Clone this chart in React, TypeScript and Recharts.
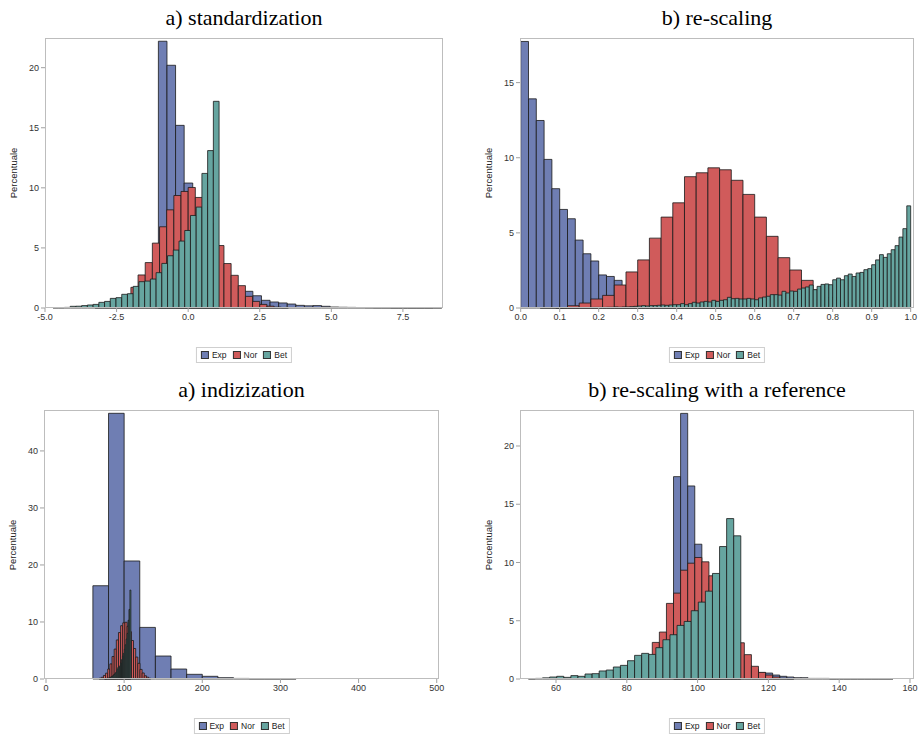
import { ComposedChart, XAxis, YAxis, ReferenceArea } from 'recharts'

// ─── data (percent per bin; each series = first bin edge, bin width, heights) ───

const seriesNames = ['Exp', 'Nor', 'Bet']

// a) standardization
const stdExpStart = -1.04
const stdExpWidth = 0.3
const stdExp = [22.2, 20.2, 15.2, 10.4, 7.6, 5.6, 4.1, 3.0, 2.2, 1.6, 1.39, 1.02, 0.64, 0.5, 0.42, 0.33, 0.22, 0.18, 0.2, 0.14, 0.08, 0.06, 0.05, 0.04, 0.03, 0.02, 0.02, 0.01, 0.01, 0.01, 0.01, 0.01, 0.02]
const stdNorStart = -3.25
const stdNorWidth = 0.25
const stdNor = [0.07, 0.15, 0.31, 0.59, 1.04, 1.72, 2.75, 3.78, 5.4, 6.76, 8.17, 9.36, 9.7, 10.03, 9.2, 8.4, 7.0, 5.2, 3.7, 2.72, 1.86, 0.97, 0.55, 0.3, 0.15, 0.07, 0.03]
const stdBetStart = -4.72
const stdBetWidth = 0.2
const stdBet = [0.03, 0.03, 0.05, 0.14, 0.15, 0.2, 0.25, 0.3, 0.47, 0.55, 0.8, 0.86, 1.14, 1.19, 1.8, 2.19, 2.24, 2.41, 2.94, 3.71, 4.35, 4.82, 5.57, 6.45, 7.7, 8.4, 11.2, 13.1, 17.2]
const stdXTicks = [-5, -2.5, 0, 2.5, 5, 7.5]
const stdYTicks = [0, 5, 10, 15, 20]

// b) re-scaling
const rsExpStart = 0
const rsExpWidth = 0.02
const rsExp = [17.74, 13.92, 12.48, 9.89, 7.94, 6.56, 5.94, 4.52, 3.61, 3.13, 2.2, 2.1, 1.84, 1.45, 1.25, 1.08, 0.92, 0.8, 0.68, 0.57, 0.48, 0.41, 0.35, 0.3, 0.25, 0.21, 0.18, 0.15, 0.13, 0.11, 0.09, 0.08, 0.06, 0.05, 0.04, 0.03, 0.03, 0.02, 0.02, 0.01]
const rsNorStart = 0.09
const rsNorWidth = 0.03
const rsNor = [0.03, 0.15, 0.33, 0.6, 0.84, 1.53, 2.4, 3.2, 4.65, 6.05, 7.0, 8.74, 9.0, 9.33, 9.2, 8.5, 7.56, 6.05, 4.77, 3.35, 2.53, 1.84, 1.2, 0.7, 0.4, 0.2, 0.1, 0.04]
const rsBetStart = 0
const rsBetWidth = 0.01
const rsBet = [
  0, 0, 0, 0, 0, 0.01, 0.01, 0.01, 0.01, 0.01,
  0.01, 0.02, 0.02, 0.02, 0.02, 0.03, 0.03, 0.03, 0.04, 0.04,
  0.04, 0.04, 0.05, 0.05, 0.07, 0.05, 0.07, 0.07, 0.09, 0.11,
  0.13, 0.16, 0.13, 0.16, 0.16, 0.18, 0.2, 0.18, 0.2, 0.22,
  0.22, 0.29, 0.22, 0.29, 0.38, 0.33, 0.4, 0.44, 0.4, 0.51,
  0.44, 0.51, 0.55, 0.71, 0.62, 0.64, 0.6, 0.6, 0.64, 0.6,
  0.55, 0.67, 0.73, 0.78, 0.89, 0.89, 0.86, 1.11, 1.0, 1.13,
  1.11, 1.26, 1.33, 1.4, 1.53, 1.22, 1.44, 1.57, 1.6, 1.55,
  1.88, 1.99, 1.88, 2.15, 2.26, 2.1, 2.33, 2.37, 2.55, 2.62,
  2.88, 3.2, 3.55, 3.37, 3.61, 3.88, 4.15, 4.72, 5.28, 6.8,
]
const rsXTicks = [0, 0.1, 0.2, 0.3, 0.4, 0.5, 0.6, 0.7, 0.8, 0.9, 1.0]
const rsYTicks = [0, 5, 10, 15]

// a) indizization
const idxExpStart = 60
const idxExpWidth = 20
const idxExp = [16.36, 46.6, 20.7, 9.05, 4.03, 1.75, 0.82, 0.47, 0.23, 0.1, 0.05, 0.05, 0.04]
const idxNorStart = 68
const idxNorWidth = 2.75
const idxNor = [0.14, 0.3, 0.62, 1.02, 1.75, 2.65, 3.95, 5.25, 6.85, 8.15, 9.35, 9.85, 9.95, 9.25, 8.3, 6.75, 5.35, 3.85, 2.75, 1.68, 1.06, 0.57, 0.32, 0.14]
const idxBetStart = 75
const idxBetWidth = 1.2
const idxBet = [0.03, 0.05, 0.1, 0.13, 0.18, 0.22, 0.3, 0.42, 0.5, 0.7, 0.8, 1.05, 1.2, 1.7, 2.0, 2.1, 2.3, 2.8, 3.4, 4.0, 4.5, 5.2, 6.0, 7.0, 8.0, 10.3, 12.2, 15.6]
const idxXTicks = [0, 100, 200, 300, 400, 500]
const idxYTicks = [0, 10, 20, 30, 40]

// b) re-scaling with a reference
const refExpStart = 93.2
const refExpWidth = 2
const refExp = [17.37, 22.8, 16.57, 11.57, 8.2, 6.0, 4.4, 3.2, 2.3, 1.6, 1.15, 0.8, 0.55, 0.51, 0.34, 0.23, 0.17, 0.11, 0.11, 0.05, 0.05, 0.05, 0.02, 0.02, 0.02, 0.02, 0.02, 0.02, 0.02, 0.02, 0.02]
const refNorStart = 75.2
const refNorWidth = 2
const refNor = [0.1, 0.22, 0.45, 0.8, 1.3, 2.0, 3.14, 4.03, 6.49, 7.37, 9.34, 9.94, 10.43, 10.06, 8.86, 7.5, 6.2, 4.2, 3.11, 2.09, 1.09, 0.57, 0.34, 0.17, 0.07, 0.03]
const refBetStart = 52.2
const refBetWidth = 2
const refBet = [0.02, 0.05, 0.1, 0.17, 0.23, 0.14, 0.29, 0.23, 0.43, 0.46, 0.69, 0.77, 1.03, 1.17, 1.57, 2.03, 2.2, 2.11, 2.69, 3.37, 3.8, 4.6, 4.94, 5.86, 6.6, 7.54, 9.06, 11.37, 13.77, 12.29]
const refXTicks = [60, 80, 100, 120, 140, 160]
const refYTicks = [0, 5, 10, 15, 20]

// ─── styling ────────────────────

const COLORS = ['#6F7EB3', '#D05B5B', '#66A5A0']
const OUTLINE = '#1a1a1a'
const SANS = '"Liberation Sans", Arial, sans-serif'
const SERIF = '"Liberation Serif", "Times New Roman", serif'

interface Hist {
  start: number
  width: number
  values: number[]
}

interface PanelProps {
  title: string
  left: number
  top: number
  plotW: number
  plotH: number
  xDomain: [number, number]
  yDomain: [number, number]
  xTicks: number[]
  yTicks: number[]
  decimals: number
  hists: Hist[]
  legendY: number
}

function binAreas(h: Hist, idx: number) {
  return h.values.map((v, i) =>
    v > 0 ? (
      <ReferenceArea
        key={`${idx}-${i}`}
        x1={h.start + i * h.width}
        x2={h.start + (i + 1) * h.width}
        y1={0}
        y2={v}
        fill={COLORS[idx]}
        fillOpacity={1}
        stroke={OUTLINE}
        strokeOpacity={0.8}
        strokeWidth={1}
        ifOverflow="visible"
      />
    ) : null
  )
}

function Panel({ title, left, top, plotW, plotH, xDomain, yDomain, xTicks, yTicks, decimals, hists, legendY }: PanelProps) {
  const axisW = 50
  const marginTop = 10
  const xAxisH = 25
  const cx = left + plotW / 2
  const tickStyle = { fontSize: 9, fill: '#333', fontFamily: SANS }

  return (
    <>
      <div
        style={{
          position: 'absolute',
          left: cx - 250,
          top: top - 32,
          width: 500,
          textAlign: 'center',
          fontFamily: SERIF,
          fontSize: 22,
          lineHeight: '24px',
          color: '#000',
        }}
      >
        {title}
      </div>

      <div style={{ position: 'absolute', left: left - axisW, top: top - marginTop }}>
        <ComposedChart
          width={plotW + axisW + 10}
          height={plotH + marginTop + xAxisH}
          margin={{ top: marginTop, right: 10, bottom: 0, left: 0 }}
        >
          <XAxis
            type="number"
            dataKey="x"
            domain={xDomain}
            allowDataOverflow
            ticks={xTicks}
            interval={0}
            height={xAxisH}
            axisLine={false}
            tickLine={{ stroke: '#a0a0a0' }}
            tickSize={4}
            tick={tickStyle}
            tickFormatter={(v: number) => v.toFixed(decimals)}
          />
          <YAxis
            type="number"
            domain={yDomain}
            allowDataOverflow
            ticks={yTicks}
            interval={0}
            width={axisW}
            axisLine={false}
            tickLine={{ stroke: '#a0a0a0' }}
            tickSize={4}
            tick={tickStyle}
          />
          {hists.map((h, idx) => binAreas(h, idx))}
        </ComposedChart>
      </div>

      {/* plot frame */}
      <div
        style={{
          position: 'absolute',
          left,
          top,
          width: plotW,
          height: plotH,
          border: '1px solid #bdbdbd',
          boxSizing: 'border-box',
          pointerEvents: 'none',
        }}
      />

      <div
        style={{
          position: 'absolute',
          left: left - 31 - 50,
          top: top + plotH / 2 - 6,
          width: 100,
          height: 12,
          lineHeight: '12px',
          textAlign: 'center',
          transform: 'rotate(-90deg)',
          fontFamily: SANS,
          fontSize: 9.5,
          color: '#222',
        }}
      >
        Percentuale
      </div>

      <div
        style={{
          position: 'absolute',
          left: cx,
          top: legendY,
          transform: 'translate(-50%, -50%)',
          display: 'flex',
          alignItems: 'center',
          border: '1px solid #cfcfcf',
          padding: '2px 4px',
          fontFamily: SANS,
          fontSize: 8.5,
          color: '#222',
          whiteSpace: 'nowrap',
        }}
      >
        {seriesNames.map((n, i) => (
          <span key={n} style={{ display: 'flex', alignItems: 'center', marginLeft: i ? 6 : 0 }}>
            <span
              style={{
                width: 6,
                height: 6,
                background: COLORS[i],
                border: '1px solid #333',
                marginRight: 3,
                display: 'inline-block',
              }}
            />
            {n}
          </span>
        ))}
      </div>
    </>
  )
}

export default function App() {
  return (
    <div
      style={{
        position: 'absolute',
        left: 0,
        top: 0,
        width: 921,
        height: 736,
        background: '#fff',
        overflow: 'hidden',
      }}
    >
      <Panel
        title="a) standardization"
        left={45}
        top={38}
        plotW={398}
        plotH={270}
        xDomain={[-5, 8.9]}
        yDomain={[0, 22.47]}
        xTicks={stdXTicks}
        yTicks={stdYTicks}
        decimals={1}
        legendY={355}
        hists={[
          { start: stdExpStart, width: stdExpWidth, values: stdExp },
          { start: stdNorStart, width: stdNorWidth, values: stdNor },
          { start: stdBetStart, width: stdBetWidth, values: stdBet },
        ]}
      />
      <Panel
        title="b) re-scaling"
        left={520}
        top={38}
        plotW={394}
        plotH={270}
        xDomain={[-0.0018, 1.0085]}
        yDomain={[0, 17.97]}
        xTicks={rsXTicks}
        yTicks={rsYTicks}
        decimals={1}
        legendY={355}
        hists={[
          { start: rsExpStart, width: rsExpWidth, values: rsExp },
          { start: rsNorStart, width: rsNorWidth, values: rsNor },
          { start: rsBetStart, width: rsBetWidth, values: rsBet },
        ]}
      />
      <Panel
        title="a) indizization"
        left={44}
        top={410}
        plotW={395}
        plotH={269}
        xDomain={[-2.56, 502.9]}
        yDomain={[0, 47.18]}
        xTicks={idxXTicks}
        yTicks={idxYTicks}
        decimals={0}
        legendY={726}
        hists={[
          { start: idxExpStart, width: idxExpWidth, values: idxExp },
          { start: idxNorStart, width: idxNorWidth, values: idxNor },
          { start: idxBetStart, width: idxBetWidth, values: idxBet },
        ]}
      />
      <Panel
        title="b) re-scaling with a reference"
        left={520}
        top={410}
        plotW={394}
        plotH={269}
        xDomain={[49.83, 161.13]}
        yDomain={[0, 23.09]}
        xTicks={refXTicks}
        yTicks={refYTicks}
        decimals={0}
        legendY={726}
        hists={[
          { start: refExpStart, width: refExpWidth, values: refExp },
          { start: refNorStart, width: refNorWidth, values: refNor },
          { start: refBetStart, width: refBetWidth, values: refBet },
        ]}
      />
    </div>
  )
}
